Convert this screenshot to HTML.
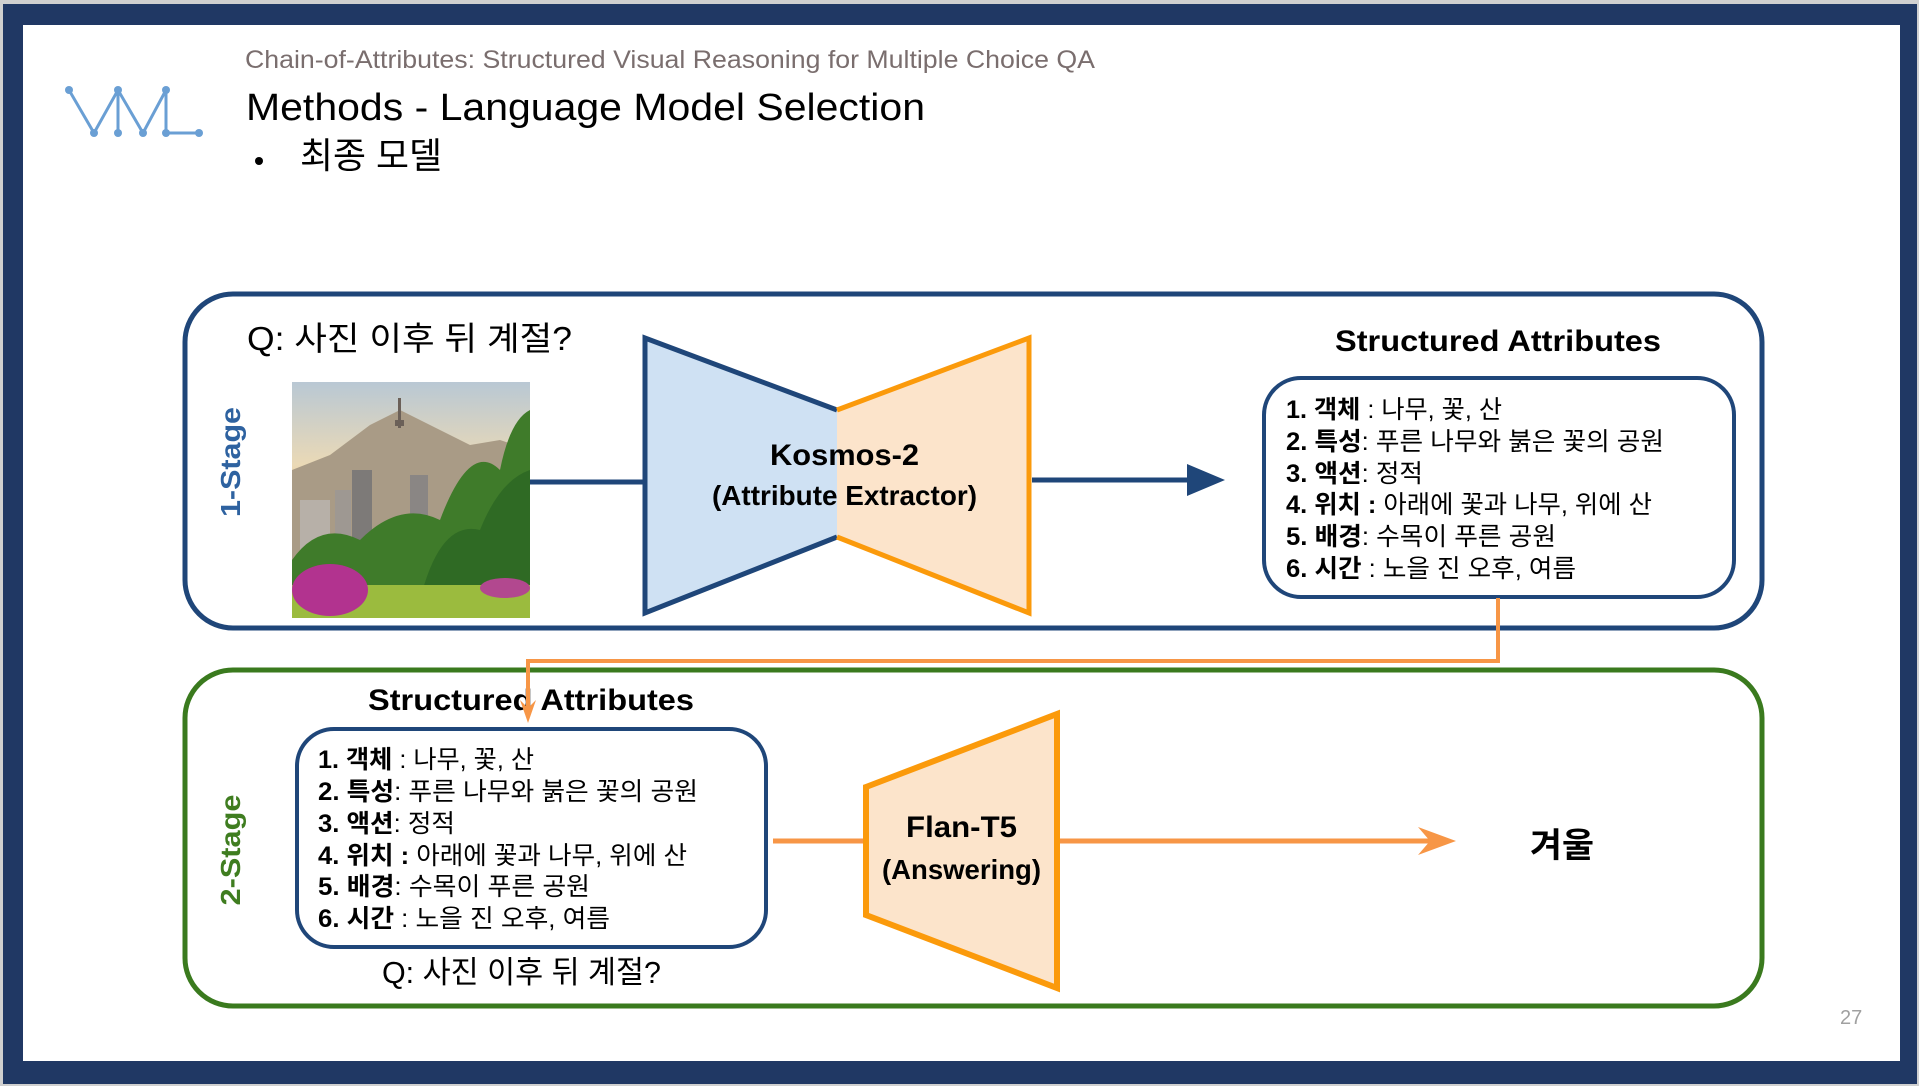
<!DOCTYPE html>
<html><head><meta charset="utf-8"><style>
html,body{margin:0;padding:0;background:#fff;}
svg{display:block;}
text{font-family:"Liberation Sans","Noto Sans CJK KR",sans-serif;}
</style></head><body>
<svg width="1919" height="1086" viewBox="0 0 1919 1086" xmlns="http://www.w3.org/2000/svg">
<defs>
<linearGradient id="sky" x1="0" y1="0" x2="0" y2="1">
<stop offset="0" stop-color="#b9c8d4"/><stop offset="0.35" stop-color="#ead9b6"/><stop offset="0.55" stop-color="#e9c58e"/><stop offset="1" stop-color="#c9b58c"/>
</linearGradient>
</defs>
<rect x="0" y="0" width="1919" height="1086" fill="#d0d0d0"/>
<rect x="3" y="4" width="1914" height="1080" fill="#203864"/>
<rect x="23" y="25" width="1877" height="1036" fill="#ffffff"/>

<!-- logo -->
<g stroke="#6a9fd4" stroke-width="3" fill="none">
<polyline points="69,90 94,133 118,90 143,133 166,90 166,133 199,133"/>
<line x1="118" y1="90" x2="118" y2="133"/>
</g>
<g fill="#6a9fd4">
<circle cx="69" cy="90" r="4"/><circle cx="118" cy="90" r="4"/><circle cx="166" cy="90" r="4"/>
<circle cx="94" cy="133" r="4"/><circle cx="118" cy="133" r="4"/><circle cx="143" cy="133" r="4"/><circle cx="166" cy="133" r="4"/><circle cx="199" cy="133" r="4"/>
</g>

<text x="245" y="68" font-size="25" fill="#7a6e6e" textLength="850" lengthAdjust="spacingAndGlyphs">Chain-of-Attributes: Structured Visual Reasoning for Multiple Choice QA</text>
<text x="246" y="120" font-size="38" fill="#000" textLength="679" lengthAdjust="spacingAndGlyphs">Methods - Language Model Selection</text>
<circle cx="259" cy="161" r="4" fill="#000"/>
<text x="300" y="168" font-size="36" fill="#000" textLength="142" lengthAdjust="spacingAndGlyphs">최종 모델</text>

<!-- Stage 1 box -->
<rect x="185" y="294" width="1577" height="334" rx="48" fill="none" stroke="#1f4679" stroke-width="5"/>
<text transform="translate(240,462) rotate(-90)" font-size="28" font-weight="bold" fill="#2e62a0" text-anchor="middle" textLength="110" lengthAdjust="spacingAndGlyphs">1-Stage</text>
<text x="247" y="350" font-size="33" fill="#000" textLength="325" lengthAdjust="spacingAndGlyphs">Q: 사진 이후 뒤 계절?</text>

<!-- photo -->
<g>
<rect x="292" y="382" width="238" height="236" fill="url(#sky)"/>
<path d="M292,470 L330,455 L370,425 L400,410 L430,425 L470,445 L500,440 L530,450 L530,618 L292,618Z" fill="#a99b86"/>
<rect x="398" y="398" width="3" height="30" fill="#6b6058"/><rect x="395" y="420" width="9" height="6" fill="#6b6058"/>
<rect x="352" y="470" width="20" height="80" fill="#7d7a78"/><rect x="410" y="475" width="18" height="70" fill="#8a8684"/>
<rect x="300" y="500" width="30" height="50" fill="#b7b0a8"/><rect x="335" y="490" width="16" height="60" fill="#9e9892"/><rect x="460" y="480" width="20" height="60" fill="#a9a39b"/>
<path d="M292,560 Q320,520 360,540 Q400,500 440,520 Q470,440 500,470 Q510,420 530,410 L530,618 L292,618Z" fill="#3f7b2a"/>
<path d="M420,600 Q440,520 480,530 Q500,480 530,470 L530,600Z" fill="#2f6a24"/>
<rect x="292" y="585" width="238" height="33" fill="#9bbb3e"/>
<ellipse cx="330" cy="590" rx="38" ry="26" fill="#b2338f"/>
<ellipse cx="505" cy="588" rx="25" ry="10" fill="#b2488f"/>
</g>
<line x1="530" y1="482" x2="647" y2="482" stroke="#1f4679" stroke-width="5"/>

<!-- Kosmos -->
<polygon points="645,338 837,410 837,537 645,613" fill="#cfe1f3"/>
<polygon points="837,410 1029,338 1029,613 837,537" fill="#fce4cb"/>
<polyline points="837,410 645,338 645,613 837,537" fill="none" stroke="#1f4679" stroke-width="5" stroke-linejoin="miter"/>
<polyline points="837,410 1029,338 1029,613 837,537" fill="none" stroke="#fb9a0b" stroke-width="5"/>
<text x="770" y="465" font-size="30" font-weight="bold" fill="#000" textLength="149" lengthAdjust="spacingAndGlyphs">Kosmos-2</text>
<text x="712" y="505" font-size="28" font-weight="bold" fill="#000" textLength="265" lengthAdjust="spacingAndGlyphs">(Attribute Extractor)</text>
<line x1="1032" y1="480" x2="1192" y2="480" stroke="#1f4679" stroke-width="5"/>
<polygon points="1187,464 1225,480 1187,496" fill="#1f4679"/>

<text x="1335" y="351" font-size="30" font-weight="bold" fill="#000" textLength="326" lengthAdjust="spacingAndGlyphs">Structured Attributes</text>
<rect x="1264" y="378" width="470" height="219" rx="37" fill="#fff" stroke="#1f4679" stroke-width="4"/>
<g font-size="25" fill="#000">
<text x="1286" y="418" textLength="216" lengthAdjust="spacingAndGlyphs"><tspan font-weight="bold">1. 객체</tspan> : 나무, 꽃, 산</text>
<text x="1286" y="450" textLength="378" lengthAdjust="spacingAndGlyphs"><tspan font-weight="bold">2. 특성</tspan>: 푸른 나무와 붉은 꽃의 공원</text>
<text x="1286" y="482" textLength="137" lengthAdjust="spacingAndGlyphs"><tspan font-weight="bold">3. 액션</tspan>: 정적</text>
<text x="1286" y="513" textLength="366" lengthAdjust="spacingAndGlyphs"><tspan font-weight="bold">4. 위치 :</tspan> 아래에 꽃과 나무, 위에 산</text>
<text x="1286" y="545" textLength="270" lengthAdjust="spacingAndGlyphs"><tspan font-weight="bold">5. 배경</tspan>: 수목이 푸른 공원</text>
<text x="1286" y="577" textLength="290" lengthAdjust="spacingAndGlyphs"><tspan font-weight="bold">6. 시간</tspan> : 노을 진 오후, 여름</text>
</g>

<!-- Stage 2 box -->
<rect x="185" y="670" width="1577" height="336" rx="48" fill="none" stroke="#3a7a1e" stroke-width="5"/>
<text transform="translate(240,850) rotate(-90)" font-size="28" font-weight="bold" fill="#3f7d20" text-anchor="middle" textLength="111" lengthAdjust="spacingAndGlyphs">2-Stage</text>

<text x="368" y="710" font-size="30" font-weight="bold" fill="#000" textLength="326" lengthAdjust="spacingAndGlyphs">Structured Attributes</text>

<!-- orange connector -->
<polyline points="1498,598 1498,661 528,661 528,712" fill="none" stroke="#f79646" stroke-width="4"/>
<polygon points="520,700 528,723 536,700 528,708" fill="#f79646"/>

<rect x="297" y="729" width="469" height="218" rx="37" fill="#fff" stroke="#1f4679" stroke-width="4"/>
<g font-size="25" fill="#000">
<text x="318" y="768" textLength="216" lengthAdjust="spacingAndGlyphs"><tspan font-weight="bold">1. 객체</tspan> : 나무, 꽃, 산</text>
<text x="318" y="800" textLength="380" lengthAdjust="spacingAndGlyphs"><tspan font-weight="bold">2. 특성</tspan>: 푸른 나무와 붉은 꽃의 공원</text>
<text x="318" y="832" textLength="137" lengthAdjust="spacingAndGlyphs"><tspan font-weight="bold">3. 액션</tspan>: 정적</text>
<text x="318" y="864" textLength="369" lengthAdjust="spacingAndGlyphs"><tspan font-weight="bold">4. 위치 :</tspan> 아래에 꽃과 나무, 위에 산</text>
<text x="318" y="895" textLength="272" lengthAdjust="spacingAndGlyphs"><tspan font-weight="bold">5. 배경</tspan>: 수목이 푸른 공원</text>
<text x="318" y="927" textLength="292" lengthAdjust="spacingAndGlyphs"><tspan font-weight="bold">6. 시간</tspan> : 노을 진 오후, 여름</text>
</g>
<text x="382" y="983" font-size="31" fill="#000" textLength="279" lengthAdjust="spacingAndGlyphs">Q: 사진 이후 뒤 계절?</text>

<line x1="773" y1="841" x2="868" y2="841" stroke="#f79646" stroke-width="5"/>
<polygon points="866,787 1057,714 1057,988 866,915" fill="#fce4cb" stroke="#fb9a0b" stroke-width="6"/>
<text x="906" y="837" font-size="30" font-weight="bold" fill="#000" textLength="111" lengthAdjust="spacingAndGlyphs">Flan-T5</text>
<text x="882" y="879" font-size="28" font-weight="bold" fill="#000" textLength="159" lengthAdjust="spacingAndGlyphs">(Answering)</text>
<line x1="1060" y1="841" x2="1440" y2="841" stroke="#f79646" stroke-width="5"/>
<polygon points="1418,827 1456,841 1418,855 1430,841" fill="#f79646"/>
<text x="1530" y="857" font-size="34" font-weight="bold" fill="#000" textLength="64" lengthAdjust="spacingAndGlyphs">겨울</text>

<text x="1840" y="1024" font-size="20" fill="#a0a0a0">27</text>
</svg>
</body></html>
